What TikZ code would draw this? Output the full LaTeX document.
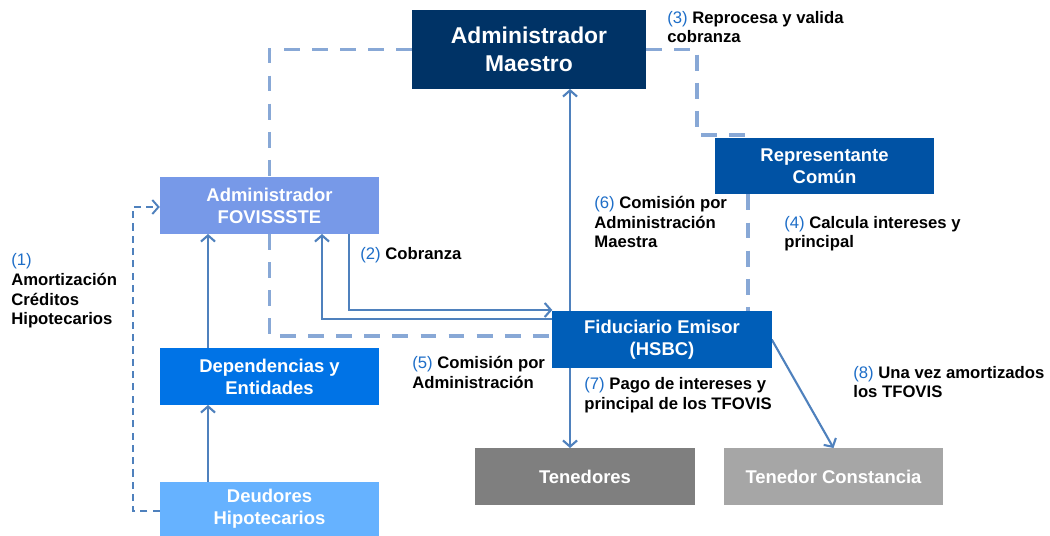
\documentclass[tikz,border=0pt]{standalone}
\usepackage{fontspec}
\setmainfont{Liberation Sans}
\usetikzlibrary{calc}
\usetikzlibrary{arrows.meta}
\usetikzlibrary{backgrounds}
\definecolor{maestroblue}{RGB}{0,51,102}
\definecolor{comunblue}{RGB}{0,82,164}
\definecolor{fovblue}{RGB}{119,153,232}
\definecolor{depblue}{RGB}{0,115,230}
\definecolor{deublue}{RGB}{102,178,255}
\definecolor{fidblue}{RGB}{0,94,184}
\definecolor{tengray}{RGB}{127,127,127}
\definecolor{constgray}{RGB}{166,166,166}
\definecolor{flowblue}{RGB}{79,129,189}
\definecolor{linkblue}{RGB}{136,168,214}
\definecolor{numblue}{RGB}{30,110,200}
\tikzset{
	boxstyle/.style={rectangle,inner sep=0pt,outer sep=0pt,minimum width=4.39cm,minimum height=1.14cm,align=center,text=white,font=\fontsize{10.5}{12.6}\selectfont\bfseries},
	labelstyle/.style={anchor=base west,align=left,inner sep=0pt,font=\fontsize{9.5}{11.3}\selectfont\bfseries},
	flowstyle/.style={draw=flowblue,line width=1.2pt,-{Straight Barb[length=3.5pt,width=8pt]}},
	linkstyle/.style={draw=linkblue,line width=2.2pt,dash pattern=on 9pt off 7pt},
	paystyle/.style={draw=flowblue,line width=1.1pt,dash pattern=on 4pt off 3pt,-{Straight Barb[length=3.5pt,width=8pt]}}
}
\newcommand{\stepnr}[1]{{\mdseries\color{numblue}(#1)}}

\begin{document}
\begin{tikzpicture}[x=0.02cm,y=-0.02cm]
		\useasboundingbox (0,0) rectangle (1050,536);
		\node[boxstyle,fill=maestroblue,minimum width=4.68cm,minimum height=1.58cm,font=\fontsize{13}{16}\selectfont\bfseries] (am) at (529,49.5) {Administrador\\Maestro};
		\node[boxstyle,fill=comunblue] (rep) at (824.5,166) {Representante\\Com\'un};
		\node[boxstyle,fill=fovblue] (fov) at (269.5,205.5) {Administrador\\FOVISSSTE};
		\node[boxstyle,fill=depblue] (dep) at (269.5,376.5) {Dependencias y\\Entidades};
		\node[boxstyle,fill=deublue,minimum height=1.08cm] (deu) at (269.5,509) {Deudores\\Hipotecarios};
		\node[boxstyle,fill=fidblue] (fid) at (662,339.5) {Fiduciario Emisor\\(HSBC)};
		\node[boxstyle,fill=tengray] (ten) at (585,476.5) {Tenedores};
		\node[boxstyle,fill=constgray] (tc) at (833.5,476.5) {Tenedor Constancia};
		\node[labelstyle] (l1) at (11,325) {\stepnr{1}\\Amortizaci\'on\\Cr\'editos\\Hipotecarios};
		\node[labelstyle] (l2) at (360,260) {\stepnr{2} Cobranza};
		\node[labelstyle] (l3) at (667,43) {\stepnr{3} Reprocesa y valida\\cobranza};
		\node[labelstyle] (l4) at (784,248) {\stepnr{4} Calcula intereses y\\principal};
		\node[labelstyle] (l5) at (412,388) {\stepnr{5} Comisi\'on por\\Administraci\'on};
		\node[labelstyle] (l6) at (594,248) {\stepnr{6} Comisi\'on por\\Administraci\'on\\Maestra};
		\node[labelstyle] (l7) at (584,409) {\stepnr{7} Pago de intereses y\\principal de los TFOVIS};
		\node[labelstyle] (l8) at (853,398) {\stepnr{8} Una vez amortizados\\los TFOVIS};
		\begin{scope}[on background layer]
		\fill[white] (0,0) rectangle (1050,536);
		\draw[linkstyle] (am.west) -| (fov.north);
		\draw[linkstyle] (fov.south) |- ([yshift=0.07cm]fid.west);
		\draw[linkstyle] (am.east) -- ++(1.02cm,0) |- ([xshift=-1.53cm,yshift=0.05cm]rep.north);
		\draw[linkstyle] ([xshift=-1.53cm]rep.south) -- ([xshift=-1.53cm]rep.south |- fid.north);
		\draw[paystyle] ([yshift=-0.04cm]deu.west) -- ++(-0.54cm,0) |- ([yshift=-0.03cm]fov.west);
		\draw[flowstyle] ([xshift=-1.23cm]deu.north) -- ([xshift=-1.23cm]dep.south);
		\draw[flowstyle] ([xshift=-1.23cm]dep.north) -- ([xshift=-1.23cm]fov.south);
		\draw[flowstyle] ([xshift=1.59cm]fov.south) |- ([yshift=0.02cm]fid.north west);
		\draw[flowstyle] ([yshift=0.41cm]fid.west) -| ([xshift=1.05cm]fov.south);
		\draw[flowstyle] ([xshift=-1.84cm]fid.north) -- ([xshift=-1.84cm]fid.north |- am.south);
		\draw[flowstyle] ([xshift=-1.84cm]fid.south) -- ([xshift=-1.84cm]fid.south |- ten.north);
		\draw[flowstyle] (fid.east) -- (tc.north);
		\end{scope}
		\end{tikzpicture}
\end{document}
